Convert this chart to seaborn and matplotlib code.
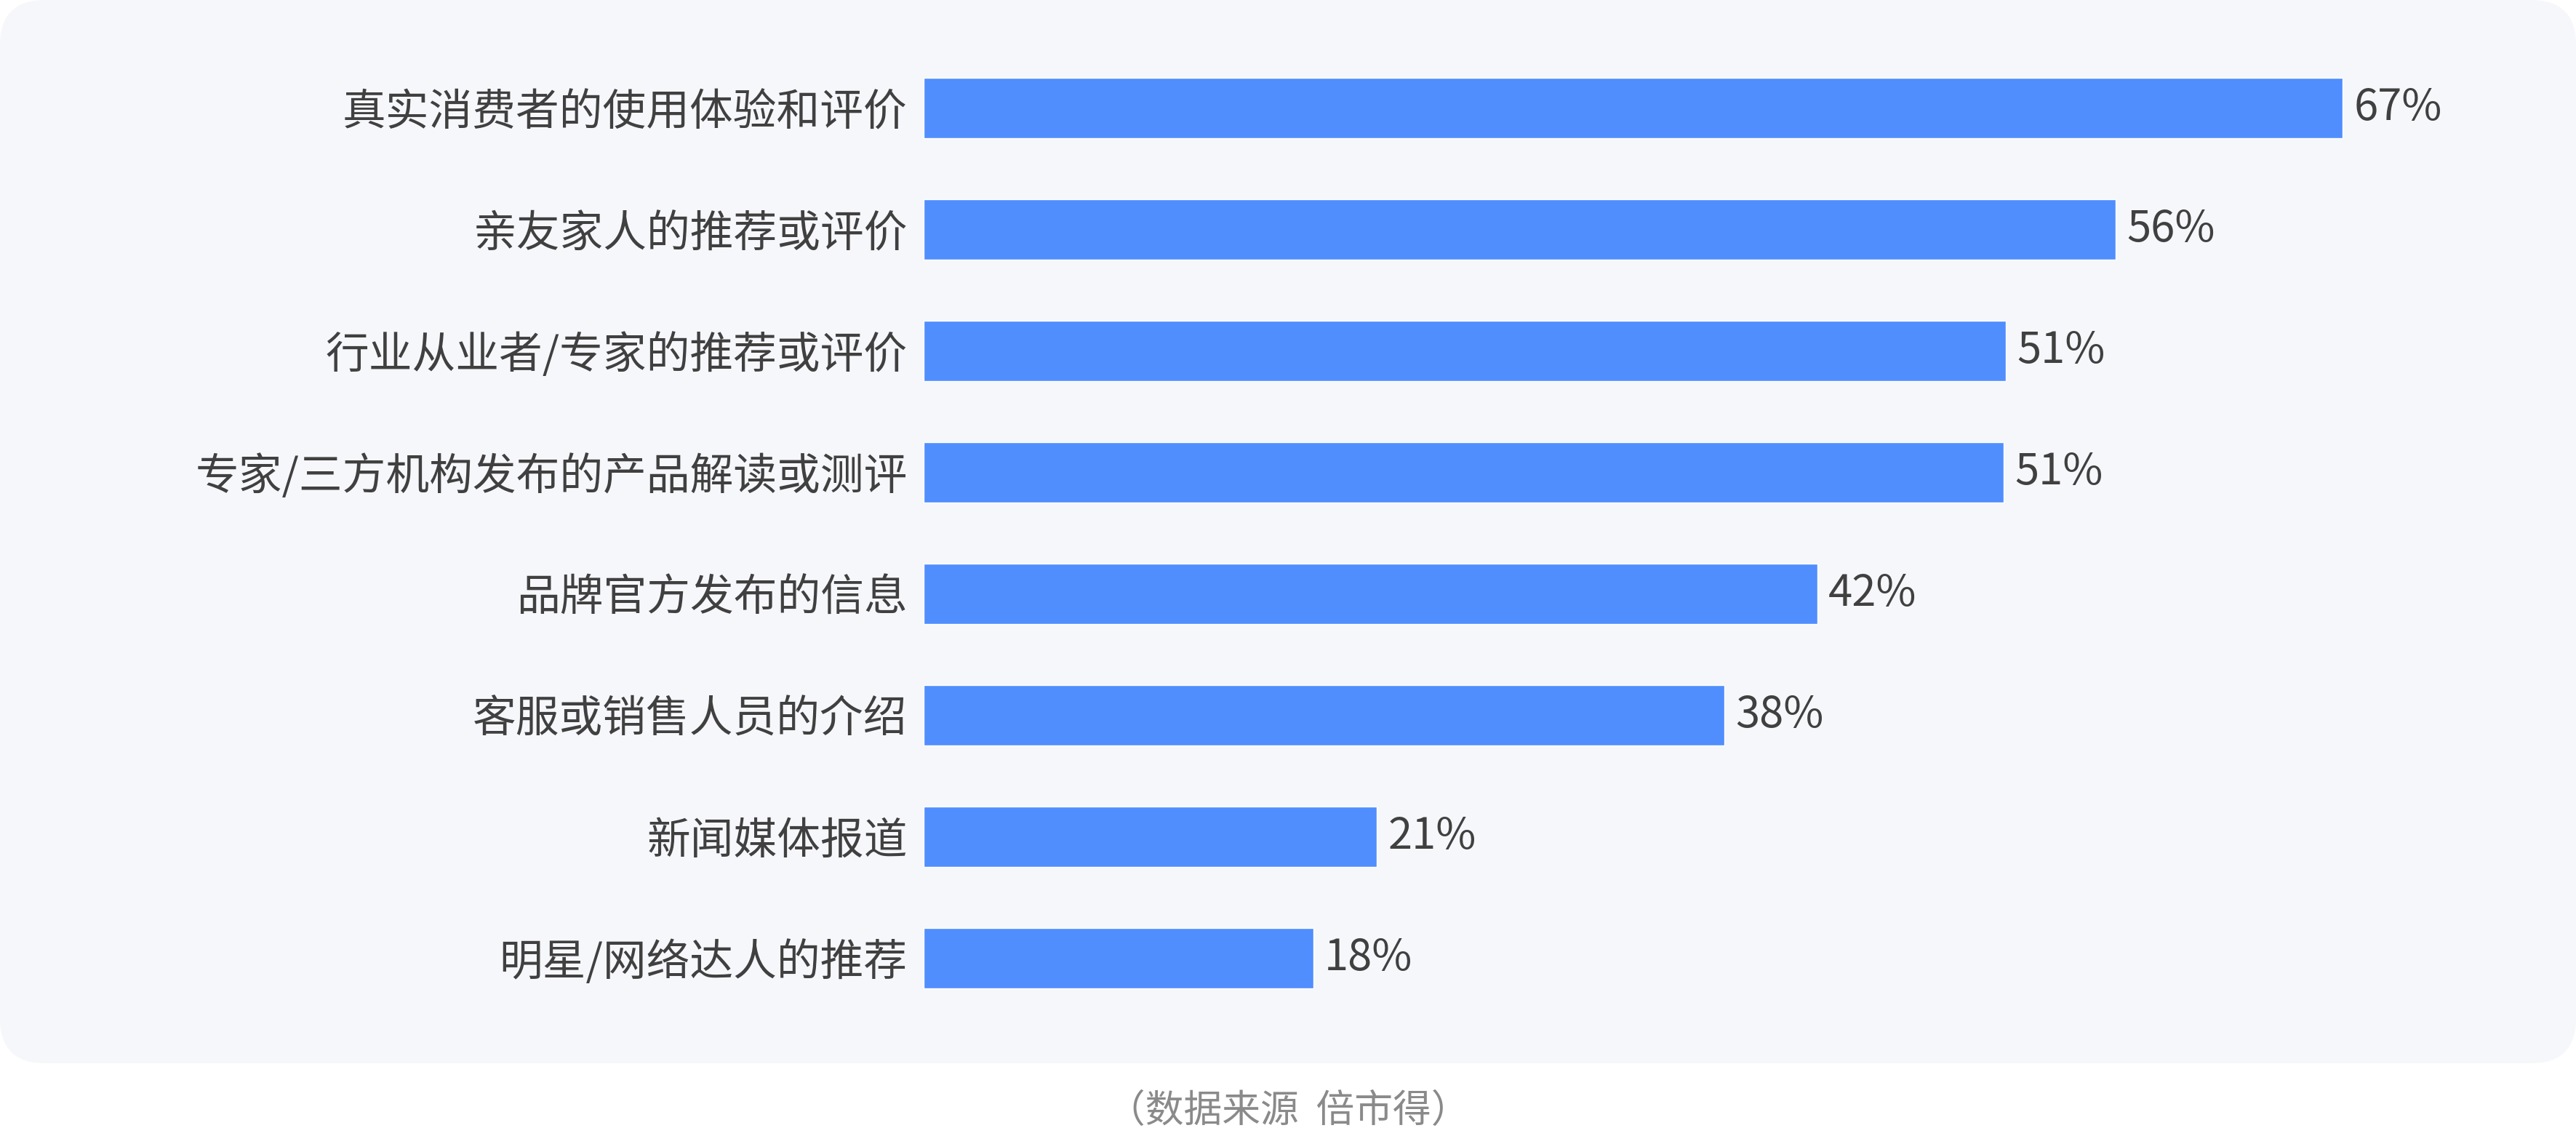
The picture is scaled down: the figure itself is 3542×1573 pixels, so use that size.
import matplotlib
matplotlib.use("Agg")
import matplotlib.pyplot as plt
from matplotlib.patches import FancyBboxPatch
import pandas as pd
import seaborn as sns

categories = [
    "真实消费者的使用体验和评价",
    "亲友家人的推荐或评价",
    "行业从业者/专家的推荐或评价",
    "专家/三方机构发布的产品解读或测评",
    "品牌官方发布的信息",
    "客服或销售人员的介绍",
    "新闻媒体报道",
    "明星/网络达人的推荐",
]
shares = [67.0, 56.3, 51.1, 51.0, 42.2, 37.8, 21.4, 18.4]
source_note = "（数据来源  倍市得）"

W, H, DPI = 3542, 1573, 100
BAR_COLOR = "#508efe"
PANEL_COLOR = "#f6f7fb"
TEXT_COLOR = "#404040"

sns.set_theme(style="white")
plt.rcParams["font.family"] = ["Noto Sans CJK SC", "DejaVu Sans"]

df = pd.DataFrame({"category": categories, "share": shares})

fig = plt.figure(figsize=(W / DPI, H / DPI), dpi=DPI)
fig.patch.set_facecolor("white")

# background panel, drawn in a full-figure axes measured in pixels
bg = fig.add_axes([0, 0, 1, 1], zorder=0)
bg.set_xlim(0, W)
bg.set_ylim(H, 0)
bg.axis("off")
bg.add_patch(FancyBboxPatch((0, 0), W, 1462,
                            boxstyle="round,pad=0,rounding_size=62",
                            facecolor=PANEL_COLOR, edgecolor="none"))
bg.text(W / 2, 1527, source_note, ha="center", va="center",
        fontsize=38, color="#8a8a8a")

# bar axes: 1% = ~29.1 px, bars centred from y=148 to y=1318 px
px_per_pct = 29.12
xmax = 75
left_px = 1270
top_px, bottom_px = 65, 1401
ax = fig.add_axes([left_px / W, (H - bottom_px) / H,
                   xmax * px_per_pct / W, (bottom_px - top_px) / H], zorder=1)
ax.set_facecolor("none")

sns.barplot(data=df, y="category", x="share", orient="h", color=BAR_COLOR,
            width=0.5, saturation=1, ax=ax)

ax.set_xlim(0, xmax)
ax.set_ylim(len(categories) - 0.5, -0.5)
ax.set_xlabel("")
ax.set_ylabel("")
ax.set_xticks([])
for s in ax.spines.values():
    s.set_visible(False)
ax.tick_params(axis="y", length=0, pad=16, labelsize=43, labelcolor=TEXT_COLOR)

for container in ax.containers:
    ax.bar_label(container, fmt="%.0f%%", padding=11, fontsize=43, color=TEXT_COLOR)

fig.savefig("out.png", dpi=DPI)
